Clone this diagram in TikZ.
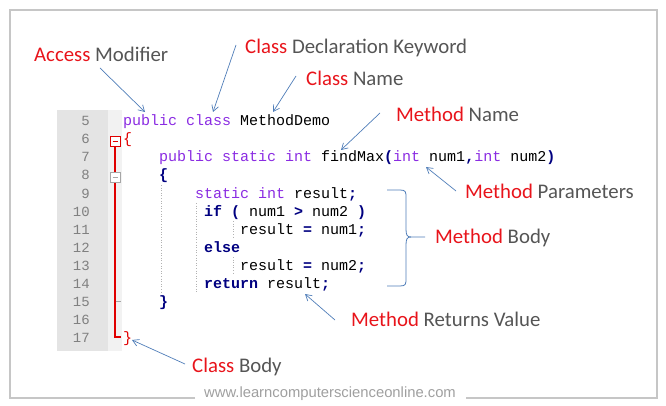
\documentclass[tikz,border=0pt]{standalone}
\usepackage{fontspec}
\setmainfont{Carlito}
\newfontfamily\codefont{Liberation Mono}
\newfontfamily\urlfont{Liberation Sans}
\usepackage{tikz}
\usetikzlibrary{arrows.meta}
\definecolor{lblred}{HTML}{E8141B}
\definecolor{lblgray}{HTML}{555555}
\definecolor{kwpurple}{HTML}{8A2BE2}
\definecolor{ctlblue}{HTML}{000080}
\definecolor{foldred}{HTML}{E00000}
\definecolor{arrowblue}{HTML}{4F7DB8}
\definecolor{guttergray}{HTML}{E4E4E4}
\newcommand{\kw}[1]{\textcolor{kwpurple}{#1}}
\newcommand{\ctl}[1]{\textcolor{ctlblue}{\bfseries #1}}
\newcommand{\op}[1]{\textcolor{ctlblue}{\bfseries #1}}
\newcommand{\hl}[1]{\textcolor{lblred}{#1}}

\begin{document}
\begin{tikzpicture}[x=1pt,y=-1pt,
    code/.style={anchor=base west, inner sep=0pt, font=\codefont\fontsize{15}{18}\selectfont},
    lnum/.style={anchor=base east, inner sep=0pt, text=gray, font=\codefont\fontsize{14}{18}\selectfont},
    lbl/.style={anchor=base west, inner sep=0pt, text=lblgray, font=\fontsize{20.8}{24}\selectfont},
    pointer/.style={draw=arrowblue, line width=0.7pt, -{Straight Barb[length=6pt,width=7pt]}},
    guide/.style={draw=gray!60, line width=0.6pt, dotted}]
        \useasboundingbox (0,0) rectangle (666,406);
        % frame with the url on its bottom edge
        \draw[gray!45, line width=1.2pt] (195,398) -- (10,398) -- (10,10) -- (657,10) -- (657,398) -- (466,398);
        \node[anchor=base, inner sep=0pt, text=gray!75, font=\urlfont\fontsize{14.8}{16}\selectfont] (url) at (330,397) {www.learncomputerscienceonline.com};
        % gutter
        \fill[guttergray] (57,110) rectangle (108,351);
        \fill[gray!10] (108,110) rectangle (122,351);
        \foreach \n in {5,...,17}
            \node[lnum] (l\n) at (90,{126+18*(\n-5)}) {\n};
        % fold markers
        \draw[foldred, line width=1.1pt] (115,146) -- (115,337) -- (121,337);
        \draw[gray!70, line width=0.9pt] (115.5,301) -- (121,301);
        \draw[foldred, line width=0.9pt, fill=white] (110,136) rectangle (120,146);
        \draw[foldred, line width=0.9pt] (112.5,141) -- (117.5,141);
        \draw[gray!70, line width=0.9pt, fill=white] (110,172) rectangle (120,182);
        \draw[gray!70, line width=0.9pt] (112.5,177) -- (117.5,177);
        % indent guides
        \draw[guide] (161,185) -- (161,293);
        \draw[guide] (196,203) -- (196,293);
        \draw[guide] (233,221) -- (233,238);
        \draw[guide] (233,257) -- (233,274);
        % code
        \node[code] (c5) at (123,126) {\kw{public class} MethodDemo};
        \node[code] (c6) at (123,144) {\textcolor{foldred}{\{}};
        \node[code] (c7) at (159,162) {\kw{public static int} findMax\op{(}\kw{int} num1\op{,}\kw{int} num2\op{)}};
        \node[code] (c8) at (159,180) {\op{\{}};
        \node[code] (c9) at (195,198) {\kw{static int} result\op{;}};
        \node[code] (c10) at (204,216) {\ctl{if} \op{(} num1 \op{>} num2 \op{)}};
        \node[code] (c11) at (240,234) {result \op{=} num1\op{;}};
        \node[code] (c12) at (204,252) {\ctl{else}};
        \node[code] (c13) at (240,270) {result \op{=} num2\op{;}};
        \node[code] (c14) at (204,288) {\ctl{return} result\op{;}};
        \node[code] (c15) at (159,306) {\op{\}}};
        \node[code] (c17) at (123,342) {\textcolor{foldred}{\}}};
        % labels
        \node[lbl] (am) at (34,62) {\hl{Access} Modifier};
        \node[lbl] (cdk) at (245,54) {\hl{Class} Declaration Keyword};
        \node[lbl] (cn) at (306,86) {\hl{Class} Name};
        \node[lbl] (mn) at (396,122) {\hl{Method} Name};
        \node[lbl] (mp) at (465,198) {\hl{Method} Parameters};
        \node[lbl] (mb) at (435,243) {\hl{Method} Body};
        \node[lbl] (mr) at (351,326) {\hl{Method} Returns Value};
        \node[lbl] (cb) at (192,372) {\hl{Class} Body};
        % pointers
        \coordinate (am1) at (100,68);   \coordinate (am2) at (145,112);
        \coordinate (cdk1) at (236,45);  \coordinate (cdk2) at (213,112);
        \coordinate (cn1) at (296,76);   \coordinate (cn2) at (273,112);
        \coordinate (mn1) at (380,113);  \coordinate (mn2) at (341,150);
        \coordinate (mp1) at (456,191);  \coordinate (mp2) at (426,167);
        \coordinate (mr1) at (335,320);  \coordinate (mr2) at (305,294);
        \coordinate (cb1) at (185,364);  \coordinate (cb2) at (132,340);
        \draw[pointer] (am1) -- (am2);
        \draw[pointer] (cdk1) -- (cdk2);
        \draw[pointer] (cn1) -- (cn2);
        \draw[pointer] (mn1) -- (mn2);
        \draw[pointer] (mp1) -- (mp2);
        \draw[pointer] (mr1) -- (mr2);
        \draw[pointer] (cb1) -- (cb2);
        % body brace
        \coordinate (mb1) at (425,237);
        \draw[arrowblue, line width=0.8pt] (387,190) -- (400,190) .. controls (406,190) and (406,192) .. (406,198)
            -- (406,229) .. controls (406,235) and (407,237) .. (411,237) -- (mb1);
        \draw[arrowblue, line width=0.8pt] (411,237) .. controls (407,237) and (406,239) .. (406,245)
            -- (406,278) .. controls (406,284) and (406,286) .. (400,286) -- (387,286);
    \end{tikzpicture}
\end{document}
